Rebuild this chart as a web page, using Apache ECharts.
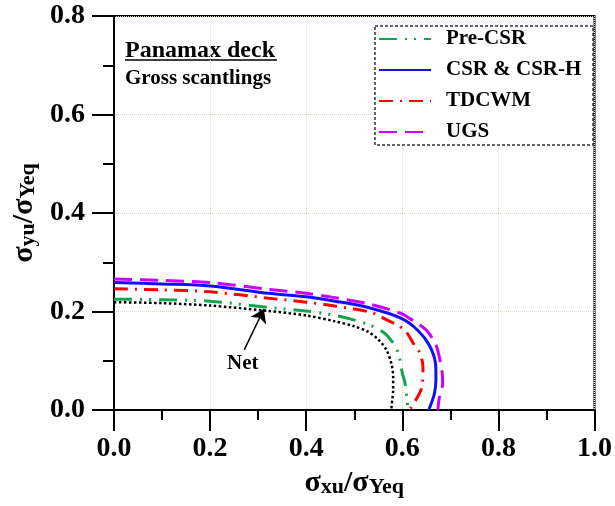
<!DOCTYPE html>
<html>
<head>
<meta charset="utf-8">
<script src="https://cdn.jsdelivr.net/npm/echarts@6/dist/echarts.min.js"></script>
<style>
  html, body { margin: 0; padding: 0; background: #fff; }
  #main { width: 615px; height: 506px; }
</style>
</head>
<body>
<div id="main"></div>
<script>
// curves: [sigma_xu/sigma_Yeq, sigma_yu/sigma_Yeq]
const netCurve = [[0, 0.219], [0.1, 0.217], [0.2, 0.212], [0.322, 0.201], [0.4, 0.192], [0.46, 0.180], [0.5, 0.170],
  [0.529, 0.159], [0.55, 0.143], [0.567, 0.122], [0.577, 0.095], [0.581, 0.068], [0.581, 0.041], [0.579, 0.02], [0.577, 0]];
const preCsr = [[0, 0.225], [0.1, 0.224], [0.2, 0.221], [0.322, 0.208], [0.4, 0.201], [0.46, 0.192], [0.529, 0.174],
  [0.563, 0.156], [0.577, 0.141], [0.588, 0.125], [0.596, 0.098], [0.600, 0.075], [0.605, 0.058], [0.608, 0.037], [0.612, 0]];
const tdcwm = [[0, 0.246], [0.1, 0.244], [0.2, 0.240], [0.322, 0.227], [0.4, 0.219], [0.46, 0.211], [0.535, 0.198],
  [0.574, 0.180], [0.592, 0.171], [0.608, 0.159], [0.625, 0.132], [0.636, 0.117], [0.643, 0.088], [0.641, 0.047], [0.632, 0.027], [0.615, 0]];
const csr = [[0, 0.259], [0.1, 0.256], [0.2, 0.252], [0.322, 0.237], [0.4, 0.230], [0.46, 0.221], [0.529, 0.208],
  [0.598, 0.186], [0.632, 0.162], [0.656, 0.132], [0.669, 0.095], [0.670, 0.068], [0.667, 0.034], [0.655, 0]];
const ugs = [[0, 0.266], [0.1, 0.263], [0.2, 0.259], [0.322, 0.245], [0.4, 0.237], [0.46, 0.228], [0.532, 0.215],
  [0.598, 0.196], [0.615, 0.186], [0.632, 0.176], [0.653, 0.159], [0.670, 0.132], [0.677, 0.108], [0.683, 0.075],
  [0.684, 0.054], [0.677, 0.025], [0.674, 0]];
const legendNames = ['Pre-CSR', 'CSR & CSR-H', 'TDCWM', 'UGS'];
// arrow pointing at the net curve
const netArrow = [[0.271, 0.122], [0.312, 0.205]];
const netLabelPos = [0.268, 0.095];

const serif = 'Liberation Serif, Times New Roman, serif';
const chart = echarts.init(document.getElementById('main'));

// sigma + subscript, tokens sit on the line bottom so a short subscript box drops lower
function subRich() {
  return {
    m: { fontFamily: serif, fontWeight: 'bold', fontSize: 30, lineHeight: 30, verticalAlign: 'bottom', color: '#000' },
    s: { fontFamily: serif, fontWeight: 'bold', fontSize: 22, lineHeight: 10, verticalAlign: 'bottom', color: '#000' }
  };
}

function curve(name, data, color, type, width) {
  return {
    name: name,
    type: 'line',
    data: data,
    smooth: 0.3,
    symbol: 'none',
    lineStyle: { color: color, type: type, width: width, cap: 'butt' },
    itemStyle: { color: color },
    z: 3
  };
}

const netSeries = curve('Net', netCurve, '#000', [2.5, 2.5], 2.5);
netSeries.markLine = {
  silent: true,
  symbol: ['none', 'arrow'],
  symbolSize: 13,
  label: { show: false },
  lineStyle: { color: '#000', type: 'solid', width: 1.5 },
  data: [[{ coord: netArrow[0] }, { coord: netArrow[1] }]]
};
netSeries.markPoint = {
  silent: true,
  symbol: 'circle',
  symbolSize: 0,
  label: { show: true, position: 'inside', formatter: 'Net', color: '#000', fontFamily: serif, fontWeight: 'bold', fontSize: 21 },
  data: [{ coord: netLabelPos }]
};

const option = {
  animation: false,
  backgroundColor: '#fff',
  grid: { left: 114, right: 17, top: 16, bottom: 96, show: true, borderColor: '#000', borderWidth: 2, backgroundColor: 'transparent' },
  legend: {
    data: legendNames,
    orient: 'vertical',
    left: 378,
    top: 28,
    padding: 0,
    itemWidth: 52,
    itemHeight: 14,
    itemGap: 9,
    itemStyle: { opacity: 0 },
    textStyle: { fontFamily: serif, fontWeight: 'bold', fontSize: 21, lineHeight: 22, color: '#000', padding: [0, 0, 0, 10] }
  },
  xAxis: {
    type: 'value', min: 0, max: 1, interval: 0.2,
    name: '{m|σ}{s|xu}{m|/σ}{s|Yeq}',
    nameLocation: 'middle', nameGap: 55,
    nameTextStyle: { rich: subRich() },
    axisLine: { lineStyle: { color: '#000', width: 2 } },
    axisTick: { inside: false, length: 21, lineStyle: { color: '#000', width: 2 } },
    minorTick: { show: true, splitNumber: 2, length: 10, lineStyle: { color: '#000', width: 2 } },
    axisLabel: { margin: 25, color: '#000', fontFamily: serif, fontWeight: 'bold', fontSize: 28, formatter: v => v.toFixed(1) },
    splitLine: { show: true, lineStyle: { color: '#ddd5c0', type: 'dotted', width: 1 } }
  },
  yAxis: {
    type: 'value', min: 0, max: 0.8, interval: 0.2,
    name: '{m|σ}{s|yu}{m|/σ}{s|Yeq}',
    nameLocation: 'middle', nameGap: 65, nameRotate: 90,
    nameTextStyle: { rich: subRich() },
    axisLine: { lineStyle: { color: '#000', width: 2 } },
    axisTick: { inside: false, length: 22, lineStyle: { color: '#000', width: 2 } },
    minorTick: { show: true, splitNumber: 2, length: 11, lineStyle: { color: '#000', width: 2 } },
    axisLabel: { margin: 29, color: '#000', fontFamily: serif, fontWeight: 'bold', fontSize: 28, formatter: v => v.toFixed(1) },
    splitLine: { show: true, lineStyle: { color: '#ddd5c0', type: 'dotted', width: 1 } }
  },
  graphic: [
    { type: 'rect', shape: { x: 375, y: 26, width: 218, height: 119 }, style: { fill: '#fff', stroke: '#333', lineWidth: 1.5, lineDash: [3, 2] }, z: 1 },
    { type: 'text', left: 125, top: 39, style: { text: 'Panamax deck', fontFamily: serif, fontWeight: 'bold', fontSize: 24, fill: '#000' } },
    { type: 'line', shape: { x1: 125, y1: 60, x2: 277, y2: 60 }, style: { stroke: '#000', lineWidth: 1.5 } },
    { type: 'text', left: 125, top: 68, style: { text: 'Gross scantlings', fontFamily: serif, fontWeight: 'bold', fontSize: 21, fill: '#000' } }
  ],
  series: [
    netSeries,
    curve('Pre-CSR', preCsr, '#10a54a', [18, 8, 2, 7, 2, 8], 3),
    curve('CSR & CSR-H', csr, '#1010ff', 'solid', 3),
    curve('TDCWM', tdcwm, '#ff0000', [14, 7, 2, 7], 3),
    curve('UGS', ugs, '#cc00ff', [18, 8], 3)
  ]
};

chart.setOption(option);
</script>
</body>
</html>
